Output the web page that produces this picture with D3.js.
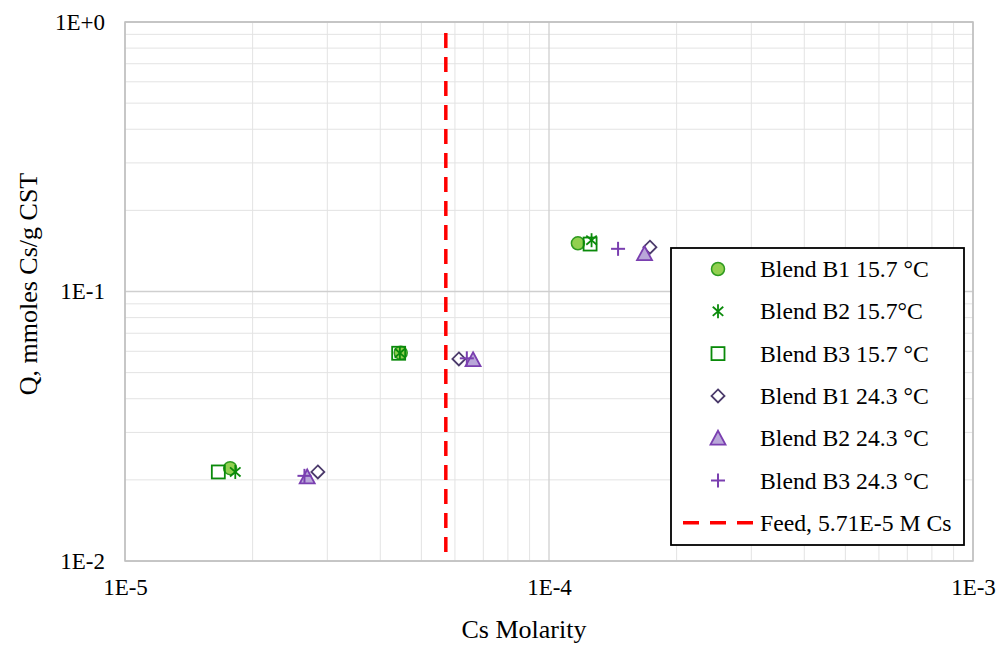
<!DOCTYPE html>
<html>
<head>
<meta charset="utf-8">
<script src="https://cdn.jsdelivr.net/npm/d3@7"></script>
<style>
  html, body { margin: 0; padding: 0; background: #fff; }
  svg { display: block; font-family: "Liberation Serif", "Times New Roman", serif; }
</style>
</head>
<body>
<svg id="chart" width="1000" height="648"></svg>
<script>
// Cs loading isotherm data: Cs molarity (M) vs Q (mmoles Cs/g CST)
const seriesNames = [
  "Blend B1 15.7 °C",
  "Blend B2 15.7°C",
  "Blend B3 15.7 °C",
  "Blend B1 24.3 °C",
  "Blend B2 24.3 °C",
  "Blend B3 24.3 °C"
];
const b1Cold_x = [1.77e-5, 4.47e-5, 1.17e-4];
const b1Cold_y = [0.0221, 0.0592, 0.151];
const b2Cold_x = [1.82e-5, 4.45e-5, 1.26e-4];
const b2Cold_y = [0.0214, 0.0591, 0.155];
const b3Cold_x = [1.66e-5, 4.42e-5, 1.25e-4];
const b3Cold_y = [0.0214, 0.0590, 0.150];
const b1Warm_x = [2.85e-5, 6.13e-5, 1.73e-4];
const b1Warm_y = [0.0214, 0.0562, 0.146];
const b2Warm_x = [2.69e-5, 6.62e-5, 1.68e-4];
const b2Warm_y = [0.0205, 0.0558, 0.138];
const b3Warm_x = [2.65e-5, 6.40e-5, 1.455e-4];
const b3Warm_y = [0.0207, 0.0565, 0.144];
const feedMolarity = 5.71e-5;
const feedLabel = "Feed, 5.71E-5 M Cs";
const xTickValues = [1e-5, 1e-4, 1e-3];
const xTickLabels = ["1E-5", "1E-4", "1E-3"];
const yTickValues = [1e-2, 1e-1, 1];
const yTickLabels = ["1E-2", "1E-1", "1E+0"];

const series = [
  { name: seriesNames[0], xs: b1Cold_x, ys: b1Cold_y, type: "circle" },
  { name: seriesNames[1], xs: b2Cold_x, ys: b2Cold_y, type: "asterisk" },
  { name: seriesNames[2], xs: b3Cold_x, ys: b3Cold_y, type: "square" },
  { name: seriesNames[3], xs: b1Warm_x, ys: b1Warm_y, type: "diamond" },
  { name: seriesNames[4], xs: b2Warm_x, ys: b2Warm_y, type: "triangle" },
  { name: seriesNames[5], xs: b3Warm_x, ys: b3Warm_y, type: "plus" }
];

const svg = d3.select("#chart");
const plot = { left: 125, top: 22, right: 973, bottom: 561 };
const FONT = "Liberation Serif, Times New Roman, serif";

const x = d3.scaleLog().domain([1e-5, 1e-3]).range([plot.left, plot.right]);
const y = d3.scaleLog().domain([1e-2, 1]).range([plot.bottom, plot.top]);

// minor + major gridlines
function logTicks(lo, hi) {
  const out = [];
  for (let e = Math.round(Math.log10(lo)); e < Math.round(Math.log10(hi)); e++) {
    for (let m = 2; m <= 9; m++) out.push(m * Math.pow(10, e));
  }
  return out;
}
const grid = svg.append("g");
grid.selectAll(".vminor").data(logTicks(1e-5, 1e-3)).join("line")
  .attr("x1", d => x(d)).attr("x2", d => x(d))
  .attr("y1", plot.top).attr("y2", plot.bottom)
  .attr("stroke", "#e3e3e3").attr("stroke-width", 1);
grid.selectAll(".hminor").data(logTicks(1e-2, 1)).join("line")
  .attr("x1", plot.left).attr("x2", plot.right)
  .attr("y1", d => y(d)).attr("y2", d => y(d))
  .attr("stroke", "#e3e3e3").attr("stroke-width", 1);
grid.selectAll(".vmajor").data(xTickValues).join("line")
  .attr("x1", d => x(d)).attr("x2", d => x(d))
  .attr("y1", plot.top).attr("y2", plot.bottom)
  .attr("stroke", "#cfcfcf").attr("stroke-width", 1.3);
grid.selectAll(".hmajor").data(yTickValues).join("line")
  .attr("x1", plot.left).attr("x2", plot.right)
  .attr("y1", d => y(d)).attr("y2", d => y(d))
  .attr("stroke", "#cfcfcf").attr("stroke-width", 1.3);

// plot frame
svg.append("rect")
  .attr("x", plot.left).attr("y", plot.top)
  .attr("width", plot.right - plot.left).attr("height", plot.bottom - plot.top)
  .attr("fill", "none").attr("stroke", "#bfbfbf").attr("stroke-width", 1.5);

// axes (labels only, Excel style)
const xAxis = d3.axisBottom(x).tickValues(xTickValues)
  .tickFormat((d, i) => xTickLabels[i]).tickSize(0);
svg.append("g").attr("transform", `translate(0,${plot.bottom})`).call(xAxis)
  .call(g => g.select(".domain").remove())
  .selectAll("text").attr("font-size", 23).attr("fill", "#000")
  .attr("font-family", FONT).attr("y", 34).attr("dy", 0);

const yAxis = d3.axisLeft(y).tickValues(yTickValues)
  .tickFormat((d, i) => yTickLabels[i]).tickSize(0).tickPadding(20);
svg.append("g").attr("transform", `translate(${plot.left},0)`).call(yAxis)
  .call(g => g.select(".domain").remove())
  .selectAll("text").attr("font-size", 23).attr("fill", "#000")
  .attr("font-family", FONT);

// axis titles
svg.append("text").attr("x", 524).attr("y", 638)
  .attr("text-anchor", "middle").attr("font-size", 26).text("Cs Molarity");
svg.append("text")
  .attr("transform", `translate(37,284) rotate(-90)`)
  .attr("text-anchor", "middle").attr("font-size", 26).text("Q, mmoles Cs/g CST");

// feed concentration line
svg.append("line")
  .attr("x1", x(feedMolarity)).attr("x2", x(feedMolarity))
  .attr("y1", 33).attr("y2", 552)
  .attr("stroke", "#ff0000").attr("stroke-width", 3.5)
  .attr("stroke-dasharray", "15,9");

// marker drawing
function drawMarker(g, type, cx, cy) {
  switch (type) {
    case "circle":
      g.append("circle").attr("cx", cx).attr("cy", cy).attr("r", 6.5)
        .attr("fill", "#92d050").attr("stroke", "#2e9a1f").attr("stroke-width", 1.5);
      break;
    case "asterisk": {
      const s = 7, c = "#0a8a0a";
      [[0, -s, 0, s], [-s * 0.75, -s * 0.65, s * 0.75, s * 0.65], [-s * 0.75, s * 0.65, s * 0.75, -s * 0.65]]
        .forEach(l => g.append("line")
          .attr("x1", cx + l[0]).attr("y1", cy + l[1]).attr("x2", cx + l[2]).attr("y2", cy + l[3])
          .attr("stroke", c).attr("stroke-width", 1.8));
      break;
    }
    case "square":
      g.append("rect").attr("x", cx - 6.5).attr("y", cy - 6.5).attr("width", 13).attr("height", 13)
        .attr("fill", "none").attr("stroke", "#0a8a0a").attr("stroke-width", 1.8);
      break;
    case "diamond": {
      const s = 6.5;
      g.append("path").attr("d", `M${cx},${cy - s}L${cx + s},${cy}L${cx},${cy + s}L${cx - s},${cy}Z`)
        .attr("fill", "none").attr("stroke", "#4b3a6b").attr("stroke-width", 1.8);
      break;
    }
    case "triangle": {
      const s = 7.5;
      g.append("path").attr("d", `M${cx},${cy - s}L${cx + s},${cy + s * 0.85}L${cx - s},${cy + s * 0.85}Z`)
        .attr("fill", "#b9a7d9").attr("stroke", "#7a3fb0").attr("stroke-width", 1.8);
      break;
    }
    case "plus": {
      const s = 7, c = "#7a3fb0";
      g.append("line").attr("x1", cx - s).attr("x2", cx + s).attr("y1", cy).attr("y2", cy)
        .attr("stroke", c).attr("stroke-width", 2);
      g.append("line").attr("x1", cx).attr("x2", cx).attr("y1", cy - s).attr("y2", cy + s)
        .attr("stroke", c).attr("stroke-width", 2);
      break;
    }
  }
}

const pts = svg.append("g");
series.forEach(s => {
  s.xs.forEach((xv, i) => drawMarker(pts, s.type, x(xv), y(s.ys[i])));
});

// legend
const lg = svg.append("g");
lg.append("rect").attr("x", 671).attr("y", 248).attr("width", 293).attr("height", 297)
  .attr("fill", "#fff").attr("stroke", "#000").attr("stroke-width", 1.8);
const rowY = i => 269 + i * 42.3;
series.forEach((s, i) => {
  drawMarker(lg, s.type, 718, rowY(i));
  lg.append("text").attr("x", 760).attr("y", rowY(i) + 8).attr("font-size", 23.7).text(s.name);
});
lg.append("line").attr("x1", 683).attr("x2", 754).attr("y1", rowY(6)).attr("y2", rowY(6))
  .attr("stroke", "#ff0000").attr("stroke-width", 3.5).attr("stroke-dasharray", "16,11");
lg.append("text").attr("x", 760).attr("y", rowY(6) + 8).attr("font-size", 23.7).text(feedLabel);
</script>
</body>
</html>
